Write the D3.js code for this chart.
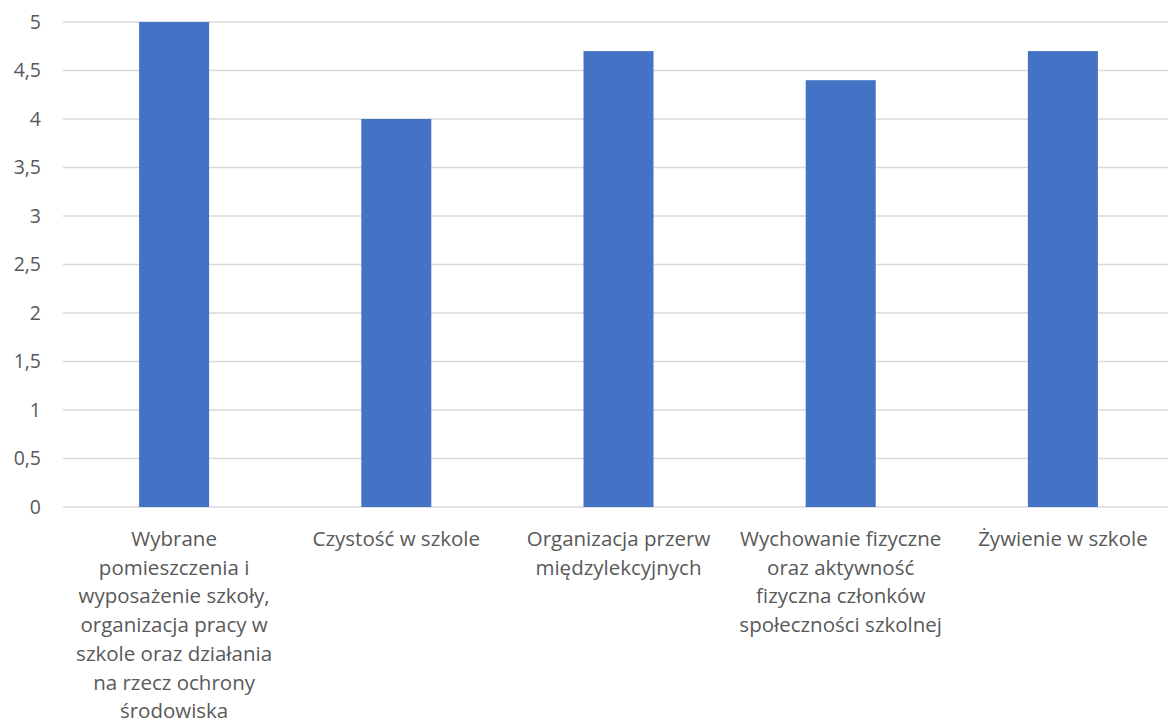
<!DOCTYPE html>
<html>
<head>
<meta charset="utf-8">
<script src="https://cdn.jsdelivr.net/npm/d3@7"></script>
<style>
  html, body { margin: 0; padding: 0; background: #fff; }
  svg { display: block; }
  text { font-family: "Open Sans", Lato, sans-serif; fill: #595959; }
</style>
</head>
<body>
<svg id="chart" width="1168" height="724"></svg>
<script>
// Category labels, already broken into lines as shown under each bar
const categories = [
  ["Wybrane", "pomieszczenia i", "wyposażenie szkoły,", "organizacja pracy w", "szkole oraz działania", "na rzecz ochrony", "środowiska"],
  ["Czystość w szkole"],
  ["Organizacja przerw", "międzylekcyjnych"],
  ["Wychowanie fizyczne", "oraz aktywność", "fizyczna członków", "społeczności szkolnej"],
  ["Żywienie w szkole"]
];
const values = [5, 4, 4.7, 4.4, 4.7];
const yTicks = [0, 0.5, 1, 1.5, 2, 2.5, 3, 3.5, 4, 4.5, 5];

const svg = d3.select("#chart");
const plotLeft = 63, plotRight = 1174, plotTop = 22, plotBottom = 507;

const x = d3.scaleBand()
  .domain(d3.range(categories.length))
  .range([plotLeft, plotRight])
  .paddingInner(0.685)
  .paddingOuter(0.3425);

const y = d3.scaleLinear().domain([0, 5]).range([plotBottom, plotTop]);

// Horizontal gridlines
svg.append("g")
  .selectAll("line")
  .data(yTicks)
  .join("line")
  .attr("x1", plotLeft).attr("x2", plotRight)
  .attr("y1", d => y(d)).attr("y2", d => y(d))
  .attr("stroke", "#d9d9d9")
  .attr("stroke-width", 1.3);

// Y axis labels (decimal comma)
const fmt = d => String(d).replace(".", ",");
svg.append("g")
  .selectAll("text")
  .data(yTicks)
  .join("text")
  .attr("x", 41)
  .attr("y", d => y(d))
  .attr("dy", "0.35em")
  .attr("text-anchor", "end")
  .attr("font-size", 19.5)
  .text(fmt);

// Bars
svg.append("g")
  .selectAll("rect")
  .data(values)
  .join("rect")
  .attr("x", (d, i) => x(i))
  .attr("width", x.bandwidth())
  .attr("y", d => y(d))
  .attr("height", d => y(0) - y(d))
  .attr("fill", "#4472C4");

// Category labels
const lab = svg.append("g")
  .selectAll("text")
  .data(categories)
  .join("text")
  .attr("x", (d, i) => x(i) + x.bandwidth() / 2)
  .attr("y", 546)
  .attr("text-anchor", "middle")
  .attr("font-size", 20.5);

lab.selectAll("tspan")
  .data(d => d)
  .join("tspan")
  .attr("x", function () { return this.parentNode.getAttribute("x"); })
  .attr("dy", (d, i) => i === 0 ? 0 : 28.7)
  .text(d => d);
</script>
</body>
</html>
